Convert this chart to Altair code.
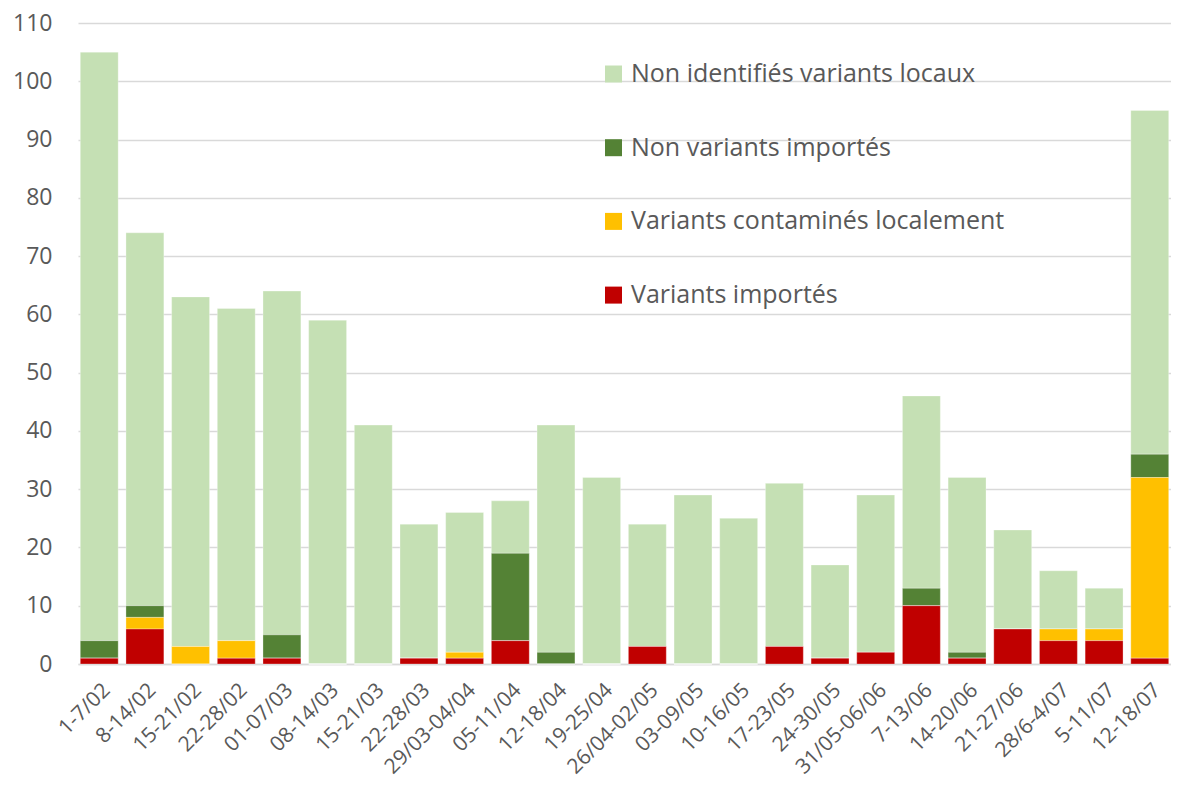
import altair as alt
import pandas as pd

weeks = ["1-7/02", "8-14/02", "15-21/02", "22-28/02", "01-07/03", "08-14/03",
         "15-21/03", "22-28/03", "29/03-04/04", "05-11/04", "12-18/04", "19-25/04",
         "26/04-02/05", "03-09/05", "10-16/05", "17-23/05", "24-30/05", "31/05-06/06",
         "7-13/06", "14-20/06", "21-27/06", "28/6-4/07", "5-11/07", "12-18/07"]

variants_importes = [1, 6, 0, 1, 1, 0, 0, 1, 1, 4, 0, 0, 3, 0, 0, 3, 1, 2, 10, 1, 6, 4, 4, 1]
variants_locaux = [0, 2, 3, 3, 0, 0, 0, 0, 1, 0, 0, 0, 0, 0, 0, 0, 0, 0, 0, 0, 0, 2, 2, 31]
non_variants_importes = [3, 2, 0, 0, 4, 0, 0, 0, 0, 15, 2, 0, 0, 0, 0, 0, 0, 0, 3, 1, 0, 0, 0, 4]
non_identifies = [101, 64, 60, 57, 59, 59, 41, 23, 24, 9, 39, 32, 21, 29, 25, 28, 16, 27, 33, 30, 17, 10, 7, 59]

series_names = ["Non identifiés variants locaux", "Non variants importés",
                "Variants contaminés localement", "Variants importés"]
series_colors = ["#C5E0B4", "#548235", "#FFC000", "#C00000"]
series_values = [non_identifies, non_variants_importes, variants_locaux, variants_importes]
stack_order = [3, 2, 1, 0]

rows = []
for name, vals, o in zip(series_names, series_values, stack_order):
    for w, v in zip(weeks, vals):
        rows.append({"semaine": w, "serie": name, "valeur": v, "ord": o})
df = pd.DataFrame(rows)

FONT = "Open Sans"
TXT = "#595959"

chart = alt.Chart(df).mark_bar(stroke="white", strokeWidth=0.5, strokeOpacity=0.6).encode(
    x=alt.X("semaine:N", sort=weeks, title=None,
            scale=alt.Scale(paddingInner=0.17, paddingOuter=0.05),
            axis=alt.Axis(labelAngle=-45, labelFontSize=21, labelColor=TXT, labelFont=FONT,
                          ticks=False, tickSize=0, labelPadding=15, domainColor="#D9D9D9",
                          domainWidth=1.5, grid=False)),
    y=alt.Y("valeur:Q", stack="zero", title=None,
            scale=alt.Scale(domain=[0, 110], nice=False),
            axis=alt.Axis(values=list(range(0, 111, 10)), labelFontSize=23, labelColor=TXT,
                          labelFont=FONT, ticks=False, tickSize=0, labelPadding=26,
                          domain=False, gridColor="#D9D9D9", gridWidth=1.5)),
    color=alt.Color("serie:N", title=None,
                    scale=alt.Scale(domain=series_names, range=series_colors),
                    legend=alt.Legend(orient="none", legendX=523, legendY=38.5,
                                      symbolType="square", symbolSize=289,
                                      symbolStrokeWidth=0, labelFontSize=25,
                                      labelFont=FONT, labelColor=TXT, rowPadding=47.7,
                                      labelOffset=5, labelLimit=500)),
    order=alt.Order("ord:Q", sort="ascending"),
).properties(
    width=1093, height=641,
    autosize=alt.AutoSizeParams(type="none"),
    padding={"left": 70, "top": 15, "right": 0, "bottom": 121},
).configure_view(stroke=None)

chart.save("out.html", embed_options={"renderer": "svg", "actions": False})
